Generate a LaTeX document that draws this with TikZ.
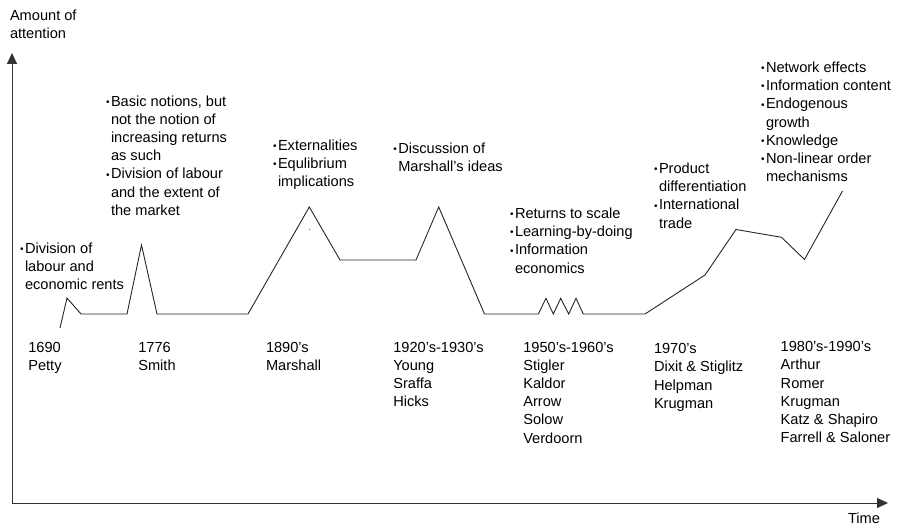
\documentclass[tikz,border=0pt]{standalone}
\usepackage{fontspec}
\setmainfont{Liberation Sans}
\usetikzlibrary{arrows.meta}

% small bullet followed by a fixed gap, and the matching hanging indent
\newcommand\blt{\makebox[5pt][l]{\raisebox{0.8pt}{\fontsize{10}{10}\selectfont •}}}
\newcommand\hang{\hspace*{5pt}}

\tikzset{
  lbl/.style={anchor=north west, inner sep=0pt, outer sep=0pt, align=left,
              font=\fontsize{14.6}{18.2}\selectfont},
  axisline/.style={draw=black!80, line width=1pt,
                   -{Triangle[length=11pt,width=10pt]}},
  trend/.style={draw=black!85, line width=0.9pt, line join=miter},
}

\begin{document}
\begin{tikzpicture}[x=1pt,y=-1pt]
\useasboundingbox (0,0) rectangle (902,527);

% axes
\coordinate (origin) at (12,503);
\coordinate (ytop) at (12,53);
\coordinate (xend) at (888,503);
\draw[axisline] (origin) -- (ytop);
\draw[axisline] (origin) -- (xend);

\node[lbl] (ylabel) at (10,9.5) {Amount of\\attention};
\node[lbl] (xlabel) at (848,512.5) {Time};

% attention over time
\draw[trend] (60,328) -- (67,298) -- (81,314) -- (127,314) -- (141.5,245)
  -- (157,314) -- (248,314) -- (309.3,207) -- (340,260) -- (416,260)
  -- (438.7,207) -- (484.5,314) -- (538.3,314)
  -- (546,298.3) -- (553.3,314) -- (560.7,298.3) -- (568.7,314)
  -- (576,298.3) -- (583.3,314) -- (645,314) -- (705,275) -- (736,229.5)
  -- (781.5,237.3) -- (804.5,259.5) -- (842.5,191);
\fill[black!60] (309.5,229.5) circle (0.6);

% topics at each peak
\node[lbl] (t1) at (20,242.5) {\blt Division of\\\hang labour and\\\hang economic rents};
\node[lbl] (t2) at (106,95.5) {\blt Basic notions, but\\\hang not the notion of\\\hang increasing returns\\\hang as such\\\blt Division of labour\\\hang and the extent of\\\hang the market};
\node[lbl] (t3) at (273,140) {\blt Externalities\\\blt Equlibrium\\\hang implications};
\node[lbl] (t4) at (393.3,142.5) {\blt Discussion of\\\hang Marshall’s ideas};
\node[lbl] (t5) at (510,208) {\blt Returns to scale\\\blt Learning-by-doing\\\blt Information\\\hang economics};
\node[lbl] (t6) at (654,163) {\blt Product\\\hang differentiation\\\blt International\\\hang trade};
\node[lbl] (t7) at (761,62) {\blt Network effects\\\blt Information content\\\blt Endogenous\\\hang growth\\\blt Knowledge\\\blt Non-linear order\\\hang mechanisms};

% periods and authors
\node[lbl] (p1) at (28.3,342) {1690\\Petty};
\node[lbl] (p2) at (138.3,342) {1776\\Smith};
\node[lbl] (p3) at (266,342) {1890’s\\Marshall};
\node[lbl] (p4) at (393.3,342) {1920’s-1930’s\\Young\\Sraffa\\Hicks};
\node[lbl] (p5) at (523.3,342) {1950’s-1960’s\\Stigler\\Kaldor\\Arrow\\Solow\\Verdoorn};
\node[lbl] (p6) at (654,343.5) {1970’s\\Dixit \& Stiglitz\\Helpman\\Krugman};
\node[lbl] (p7) at (780.7,341.5) {1980’s-1990’s\\Arthur\\Romer\\Krugman\\Katz \& Shapiro\\Farrell \& Saloner};
\end{tikzpicture}
\end{document}
